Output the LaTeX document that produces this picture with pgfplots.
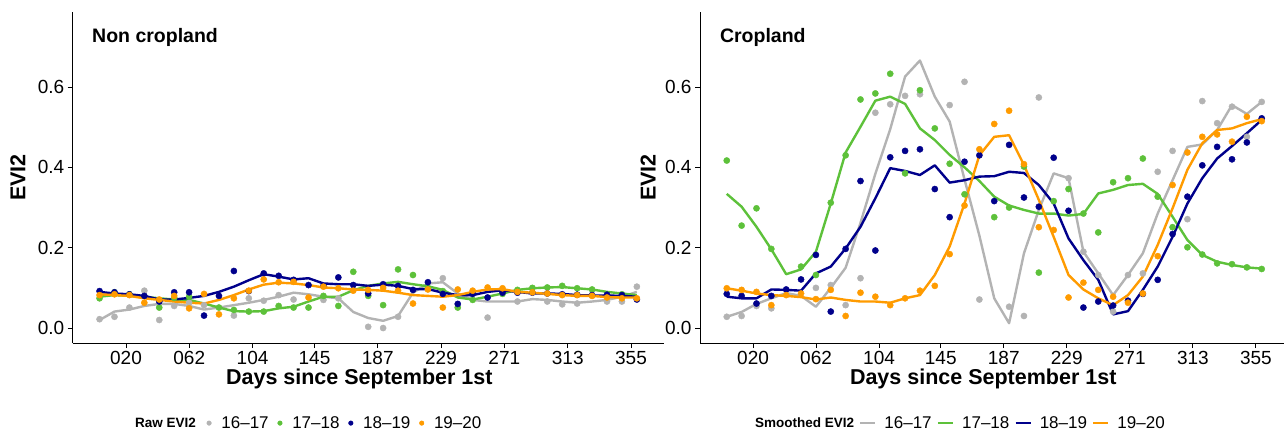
\documentclass[border=0pt]{standalone}
\usepackage{pgfplots}
\pgfplotsset{compat=1.18}
\usepackage{fontspec}
\setmainfont{Liberation Sans}
\definecolor{cgray}{HTML}{B3B3B3}
\definecolor{cgreen}{HTML}{5DC13A}
\definecolor{cblue}{HTML}{00008B}
\definecolor{corange}{HTML}{FF9B00}
\pgfplotsset{
  evi/.style={
    scale only axis, height=331.4pt, ymin=-0.0375, ymax=0.7875, clip=false,
    axis x line*=bottom, axis y line*=left,
    axis line style={black, line width=0.9pt, -},
    tick align=outside, major tick length=5pt,
    tick style={black, line width=0.9pt},
    xtick={2.77,7.01,11.25,15.40,19.64,23.88,28.12,32.37,36.61},
    xticklabels={020,062,104,145,187,229,271,313,355},
    ytick={0,0.2,0.4,0.6}, yticklabels={0.0,0.2,0.4,0.6},
    ticklabel style={font=\fontsize{19}{19}\selectfont, black},
    xlabel={Days since September 1st}, ylabel={EVI2},
    label style={font=\bfseries\fontsize{21.5}{21.5}\selectfont},
    xlabel style={at={(axis description cs:0.485,-0.1087)}, anchor=center},
  },
  ln/.style={line width=2.4pt, line join=round},
  pt/.style={only marks, mark=*, mark size=3.1pt},
}
\begin{document}
\begin{tikzpicture}
\path[use as bounding box] (0pt,0pt) rectangle (1284pt,434pt);
% ---------------- Left panel: Non cropland ----------------
\begin{axis}[evi, at={(72.7pt,90.9pt)}, anchor=south west, width=591pt,
  xmin=-0.8, xmax=38.8,
  ylabel style={at={(axis description cs:-0.0926,0.5)}, anchor=center},
  legend style={draw=none, fill=none, legend columns=-1,
    at={(axis description cs:0.2269,-0.2414)}, anchor=west,
    inner sep=0pt, outer sep=0pt, font=\fontsize{17}{17}\selectfont,
    nodes={inner sep=0pt},
    /tikz/every odd column/.append style={column sep=10pt},
    /tikz/every even column/.append style={column sep=9pt}},
  legend image code/.code={\draw[#1, mark size=2.3pt] plot coordinates {(0pt,0pt)};},
]
\addplot[ln, cgray, forget plot] coordinates {(1,0.020)(2,0.041)(3,0.046)(4,0.055)(5,0.060)(6,0.060)(7,0.055)(8,0.046)(9,0.051)(10,0.057)(11,0.063)(12,0.070)(13,0.078)(14,0.088)(15,0.084)(16,0.078)(17,0.074)(18,0.040)(19,0.025)(20,0.018)(21,0.030)(22,0.088)(23,0.111)(24,0.114)(25,0.086)(26,0.070)(27,0.066)(28,0.066)(29,0.066)(30,0.072)(31,0.070)(32,0.066)(33,0.063)(34,0.066)(35,0.070)(36,0.078)(37,0.090)};
\addplot[ln, cgreen, forget plot] coordinates {(1,0.078)(2,0.082)(3,0.080)(4,0.078)(5,0.074)(6,0.071)(7,0.070)(8,0.061)(9,0.051)(10,0.042)(11,0.041)(12,0.042)(13,0.049)(14,0.053)(15,0.066)(16,0.078)(17,0.078)(18,0.094)(19,0.105)(20,0.111)(21,0.115)(22,0.109)(23,0.104)(24,0.095)(25,0.076)(26,0.071)(27,0.078)(28,0.086)(29,0.095)(30,0.099)(31,0.101)(32,0.102)(33,0.099)(34,0.096)(35,0.090)(36,0.086)(37,0.082)};
\addplot[ln, cblue, forget plot] coordinates {(1,0.090)(2,0.086)(3,0.084)(4,0.080)(5,0.071)(6,0.071)(7,0.075)(8,0.080)(9,0.090)(10,0.103)(11,0.119)(12,0.134)(13,0.128)(14,0.121)(15,0.124)(16,0.111)(17,0.109)(18,0.109)(19,0.105)(20,0.108)(21,0.105)(22,0.097)(23,0.097)(24,0.088)(25,0.082)(26,0.082)(27,0.090)(28,0.094)(29,0.090)(30,0.086)(31,0.086)(32,0.085)(33,0.082)(34,0.081)(35,0.081)(36,0.080)(37,0.078)};
\addplot[ln, corange, forget plot] coordinates {(1,0.084)(2,0.082)(3,0.080)(4,0.074)(5,0.070)(6,0.066)(7,0.063)(8,0.061)(9,0.070)(10,0.082)(11,0.096)(12,0.108)(13,0.113)(14,0.111)(15,0.107)(16,0.101)(17,0.099)(18,0.096)(19,0.095)(20,0.093)(21,0.088)(22,0.082)(23,0.080)(24,0.078)(25,0.082)(26,0.090)(27,0.096)(28,0.097)(29,0.090)(30,0.088)(31,0.085)(32,0.082)(33,0.080)(34,0.080)(35,0.077)(36,0.076)(37,0.076)};
\addplot[pt, cgray] coordinates {(1,0.022)(2,0.028)(3,0.051)(4,0.093)(5,0.020)(6,0.055)(7,0.063)(8,0.057)(10,0.031)(11,0.074)(12,0.068)(13,0.082)(14,0.071)(16,0.070)(17,0.074)(19,0.003)(20,0.000)(21,0.028)(24,0.124)(27,0.026)(29,0.066)(31,0.066)(32,0.059)(33,0.061)(35,0.066)(36,0.066)(37,0.103)};
\addlegendentry{16--17}
\addplot[pt, cgreen] coordinates {(1,0.074)(2,0.089)(3,0.084)(5,0.051)(6,0.075)(7,0.078)(9,0.051)(10,0.045)(11,0.041)(12,0.041)(13,0.055)(14,0.051)(15,0.051)(16,0.080)(17,0.055)(18,0.140)(19,0.080)(20,0.057)(21,0.146)(22,0.132)(23,0.100)(24,0.092)(25,0.051)(26,0.070)(28,0.085)(29,0.095)(30,0.100)(31,0.101)(32,0.105)(33,0.099)(34,0.096)(36,0.084)};
\addlegendentry{17--18}
\addplot[pt, cblue] coordinates {(1,0.092)(2,0.089)(3,0.084)(4,0.080)(5,0.066)(6,0.089)(7,0.089)(8,0.031)(9,0.080)(10,0.142)(11,0.092)(12,0.136)(13,0.130)(14,0.120)(15,0.107)(16,0.105)(17,0.126)(18,0.107)(19,0.086)(20,0.109)(21,0.105)(22,0.095)(23,0.114)(24,0.085)(25,0.060)(26,0.085)(27,0.076)(28,0.088)(29,0.088)(30,0.088)(31,0.086)(32,0.084)(33,0.083)(34,0.082)(35,0.083)(36,0.082)(37,0.071)};
\addlegendentry{18--19}
\addplot[pt, corange] coordinates {(1,0.082)(2,0.084)(3,0.082)(4,0.063)(5,0.071)(6,0.080)(7,0.049)(8,0.085)(9,0.034)(10,0.074)(11,0.093)(12,0.121)(13,0.114)(14,0.115)(15,0.076)(16,0.103)(17,0.099)(18,0.093)(19,0.095)(20,0.100)(21,0.093)(22,0.061)(23,0.096)(24,0.051)(25,0.096)(26,0.093)(27,0.101)(28,0.099)(29,0.090)(30,0.089)(31,0.086)(32,0.082)(33,0.082)(34,0.080)(35,0.076)(36,0.074)(37,0.074)};
\addlegendentry{19--20}
\node[anchor=west, font=\bfseries\fontsize{19.5}{19.5}\selectfont, inner sep=0pt] at (axis description cs:0.0327,0.923) {Non cropland};
\node[anchor=east, font=\bfseries\fontsize{13.5}{13.5}\selectfont, inner sep=0pt] at (axis description cs:0.2086,-0.2414) {Raw EVI2};
\end{axis}
% ---------------- Right panel: Cropland ----------------
\begin{axis}[evi, at={(700pt,90.9pt)}, anchor=south west, width=584pt,
  xmin=-0.8, xmax=38.5,
  ylabel style={at={(axis description cs:-0.089,0.5)}, anchor=center},
  legend style={draw=none, fill=none, legend columns=-1,
    at={(axis description cs:0.2723,-0.2414)}, anchor=west,
    inner sep=0pt, outer sep=0pt, font=\fontsize{17}{17}\selectfont,
    nodes={inner sep=0pt},
    /tikz/every odd column/.append style={column sep=8pt},
    /tikz/every even column/.append style={column sep=5pt}},
  legend image code/.code={\draw[#1, line width=2.4pt] (0pt,0pt) -- (15pt,0pt);},
]
\addplot[ln, cgray] coordinates {(1,0.028)(2,0.040)(3,0.060)(4,0.074)(5,0.087)(6,0.080)(7,0.053)(8,0.100)(9,0.150)(10,0.262)(11,0.384)(12,0.495)(13,0.626)(14,0.666)(15,0.576)(16,0.514)(17,0.370)(18,0.230)(19,0.074)(20,0.012)(21,0.186)(22,0.294)(23,0.385)(24,0.373)(25,0.190)(26,0.136)(27,0.082)(28,0.132)(29,0.186)(30,0.285)(31,0.368)(32,0.451)(33,0.457)(34,0.493)(35,0.555)(36,0.533)(37,0.563)};
\addlegendentry{16--17}
\addplot[ln, cgreen] coordinates {(1,0.334)(2,0.302)(3,0.252)(4,0.196)(5,0.134)(6,0.146)(7,0.190)(8,0.310)(9,0.437)(10,0.501)(11,0.566)(12,0.576)(13,0.558)(14,0.497)(15,0.468)(16,0.431)(17,0.400)(18,0.366)(19,0.327)(20,0.305)(21,0.294)(22,0.285)(23,0.285)(24,0.280)(25,0.284)(26,0.335)(27,0.344)(28,0.356)(29,0.359)(30,0.334)(31,0.277)(32,0.219)(33,0.182)(34,0.165)(35,0.157)(36,0.151)(37,0.148)};
\addlegendentry{17--18}
\addplot[ln, cblue] coordinates {(1,0.078)(2,0.074)(3,0.074)(4,0.096)(5,0.095)(6,0.093)(7,0.136)(8,0.153)(9,0.198)(10,0.252)(11,0.323)(12,0.398)(13,0.391)(14,0.381)(15,0.405)(16,0.362)(17,0.368)(18,0.377)(19,0.378)(20,0.389)(21,0.386)(22,0.356)(23,0.310)(24,0.223)(25,0.169)(26,0.120)(27,0.034)(28,0.042)(29,0.095)(30,0.153)(31,0.227)(32,0.310)(33,0.373)(34,0.422)(35,0.453)(36,0.485)(37,0.518)};
\addlegendentry{18--19}
\addplot[ln, corange] coordinates {(1,0.099)(2,0.093)(3,0.086)(4,0.082)(5,0.080)(6,0.077)(7,0.071)(8,0.076)(9,0.070)(10,0.066)(11,0.066)(12,0.063)(13,0.074)(14,0.082)(15,0.132)(16,0.203)(17,0.310)(18,0.430)(19,0.476)(20,0.480)(21,0.406)(22,0.319)(23,0.227)(24,0.132)(25,0.096)(26,0.074)(27,0.057)(28,0.082)(29,0.128)(30,0.207)(31,0.298)(32,0.394)(33,0.460)(34,0.493)(35,0.497)(36,0.510)(37,0.520)};
\addlegendentry{19--20}
\addplot[pt, cgray, forget plot] coordinates {(1,0.028)(2,0.030)(3,0.055)(4,0.049)(7,0.100)(8,0.107)(9,0.057)(10,0.124)(11,0.536)(12,0.557)(13,0.578)(14,0.582)(16,0.555)(17,0.613)(18,0.071)(20,0.053)(21,0.030)(22,0.574)(24,0.373)(25,0.190)(26,0.132)(27,0.041)(28,0.132)(29,0.136)(30,0.389)(31,0.441)(32,0.271)(33,0.565)(34,0.510)(35,0.551)(36,0.476)(37,0.563)};
\addplot[pt, cgreen, forget plot] coordinates {(1,0.417)(2,0.255)(3,0.298)(4,0.197)(6,0.153)(7,0.132)(8,0.312)(9,0.430)(10,0.569)(11,0.584)(12,0.633)(13,0.385)(14,0.592)(15,0.497)(16,0.409)(17,0.333)(19,0.276)(20,0.300)(21,0.402)(22,0.138)(23,0.316)(24,0.346)(25,0.285)(26,0.238)(27,0.363)(28,0.373)(29,0.422)(30,0.327)(31,0.251)(32,0.201)(33,0.183)(34,0.161)(35,0.159)(36,0.151)(37,0.147)};
\addplot[pt, cblue, forget plot] coordinates {(1,0.085)(2,0.080)(3,0.061)(4,0.080)(5,0.096)(6,0.121)(7,0.182)(8,0.041)(9,0.197)(10,0.366)(11,0.193)(12,0.425)(13,0.441)(14,0.445)(15,0.346)(16,0.276)(17,0.414)(18,0.430)(19,0.316)(20,0.456)(21,0.325)(22,0.302)(23,0.424)(24,0.292)(25,0.051)(26,0.066)(27,0.056)(28,0.068)(29,0.085)(30,0.120)(31,0.234)(32,0.327)(33,0.405)(34,0.451)(35,0.420)(36,0.462)(37,0.522)};
\addplot[pt, corange, forget plot] coordinates {(1,0.099)(2,0.095)(3,0.090)(4,0.057)(5,0.082)(6,0.086)(7,0.072)(8,0.095)(9,0.030)(10,0.088)(11,0.078)(12,0.057)(13,0.074)(14,0.093)(15,0.105)(16,0.184)(17,0.305)(18,0.445)(19,0.508)(20,0.541)(21,0.408)(22,0.251)(23,0.244)(24,0.076)(25,0.113)(26,0.095)(27,0.078)(28,0.063)(29,0.086)(30,0.179)(31,0.356)(32,0.437)(33,0.476)(34,0.482)(35,0.464)(36,0.526)(37,0.515)};
\node[anchor=west, font=\bfseries\fontsize{19.5}{19.5}\selectfont, inner sep=0pt] at (axis description cs:0.034,0.923) {Cropland};
\node[anchor=east, font=\bfseries\fontsize{13.5}{13.5}\selectfont, inner sep=0pt] at (axis description cs:0.2642,-0.2414) {Smoothed EVI2};
\end{axis}
\end{tikzpicture}
\end{document}
